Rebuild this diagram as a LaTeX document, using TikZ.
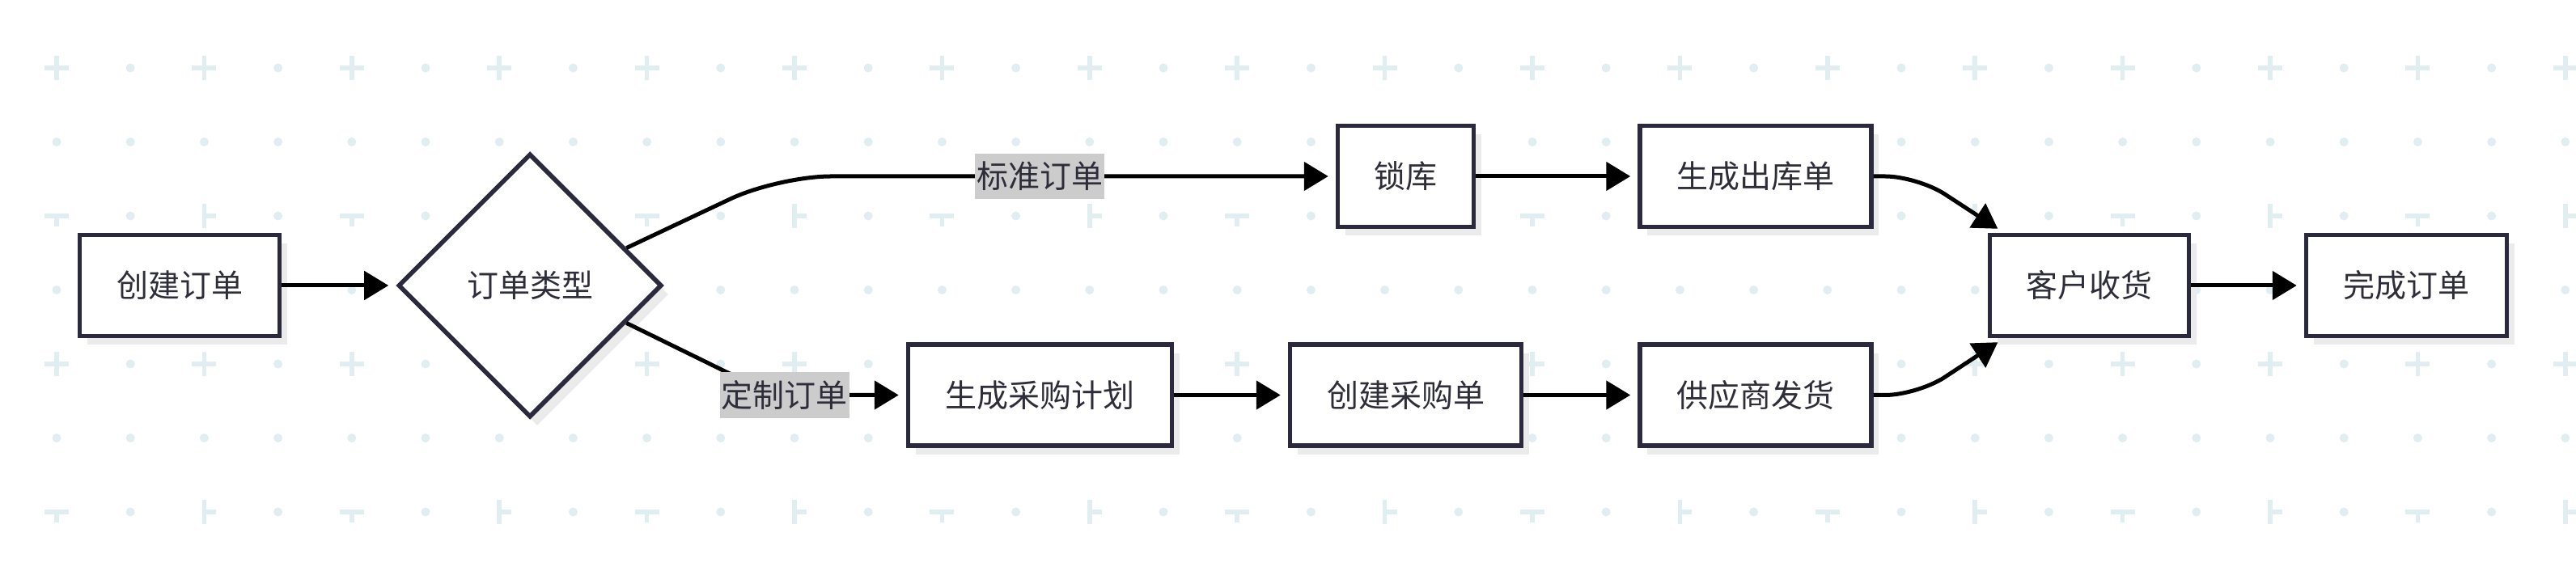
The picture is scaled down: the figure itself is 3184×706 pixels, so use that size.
\documentclass[tikz,border=0pt]{standalone}
\usepackage{fontspec}
\setmainfont{Noto Sans CJK SC}
\usepackage{tikz}
\usetikzlibrary{arrows.meta, positioning, shapes.geometric, calc, shadows}

\definecolor{boxline}{RGB}{42,41,62}
\definecolor{boxtext}{RGB}{46,45,58}
\definecolor{dotblue}{RGB}{224,238,242}
\definecolor{tagfill}{RGB}{204,204,204}

\begin{document}
\begin{tikzpicture}[x=1pt, y=1pt, >={Triangle[length=30pt,width=35pt]},
		every node/.style={font=\fontsize{39}{47}\selectfont, text=boxtext},
		box/.style={draw=boxline, line width=5.5pt, fill=white, minimum height=125pt, inner sep=0pt,
			drop shadow={shadow xshift=9pt, shadow yshift=-11pt, fill=black!8, opacity=1}},
		decision/.style={box, diamond, minimum width=326pt, minimum height=326pt},
		tag/.style={fill=tagfill, inner xsep=2pt, inner ysep=10pt},
		post/.style={->, line width=5pt, shorten >=9pt},
		grid mark/.style={draw=dotblue, line width=5.5pt}]

				\useasboundingbox (0,0) rectangle (3184,706);
				\fill[white] (0,0) rectangle (3184,706);

				\foreach \i in {0,...,34}
					\foreach \j in {0,...,6} {
						\pgfmathsetmacro{\gx}{70+91.2*\i}
						\pgfmathsetmacro{\gy}{622-91.5*\j}
						\pgfmathtruncatemacro{\kind}{(isodd(\i) || isodd(\j)) ? 0 : (mod(\j,4)==0 ? 1 : (mod(\i,4)==0 ? 2 : 3))}
						\ifcase\kind
							\fill[dotblue] (\gx,\gy) circle (5.5pt);
						\or
							\draw[grid mark] (\gx-15,\gy) -- (\gx+15,\gy) (\gx,\gy-15) -- (\gx,\gy+15);
						\or
							\draw[grid mark] (\gx-15,\gy) -- (\gx+15,\gy) (\gx,\gy) -- (\gx,\gy-13);
						\or
							\draw[grid mark] (\gx,\gy-15) -- (\gx,\gy+15) (\gx,\gy) -- (\gx+15,\gy);
						\fi
					}

				\node[box, minimum width=247pt] (order) at (222,353) {创建订单};
				\node[decision] (type) [right of=order, node distance=433pt] {订单类型};

				\node[box, minimum width=326pt] (plan) at (1285.5,217.5) {生成采购计划};
				\node[box, minimum width=286pt] (purchase)
					[right of=plan, node distance=452pt] {创建采购单};
				\node[box, minimum width=286pt] (ship)
					[right of=purchase, node distance=432.5pt] {供应商发货};

				\node[box, minimum width=168pt] (lock)
					[above of=purchase, node distance=270.5pt] {锁库};
				\node[box, minimum width=286pt] (outbound)
					[above of=ship, node distance=270.5pt] {生成出库单};

				\node[box, minimum width=246pt] (receive) at (2582.5,353) {客户收货};
				\node[box, minimum width=248pt] (done)
					[right of=receive, node distance=392pt] {完成订单};

				\coordinate (upexit) at ($(type.north)!0.72!(type.east)$);
				\coordinate (upbend) at (962,488);
				\coordinate (lowexit) at ($(type.south)!0.72!(type.east)$);
				\coordinate (lowbend) at (956,217.5);
				\coordinate (outbend) at (2370,488);
				\coordinate (shipbend) at (2370,217.5);
				\coordinate (recvtop) at ($(receive.north west)!0.08!(receive.north east)$);
				\coordinate (recvbot) at ($(receive.south west)!0.08!(receive.south east)$);

				\draw[post] (order) -- (type);
				\draw[post, rounded corners=65pt] (upexit) -- (upbend) -- (lock);
				\draw[post, rounded corners=65pt] (lowexit) -- (lowbend) -- (plan);
				\draw[post] (lock) -- (outbound);
				\draw[post] (plan) -- (purchase);
				\draw[post] (purchase) -- (ship);
				\draw[post, rounded corners=40pt] (outbound) -- (outbend) -- (recvtop);
				\draw[post, rounded corners=40pt] (ship) -- (shipbend) -- (recvbot);
				\draw[post] (receive) -- (done);

				\node[tag] (stdtag) at (1285,488) {标准订单};
				\node[tag] (custag) at (969.5,217.5) {定制订单};

			\end{tikzpicture}
\end{document}
